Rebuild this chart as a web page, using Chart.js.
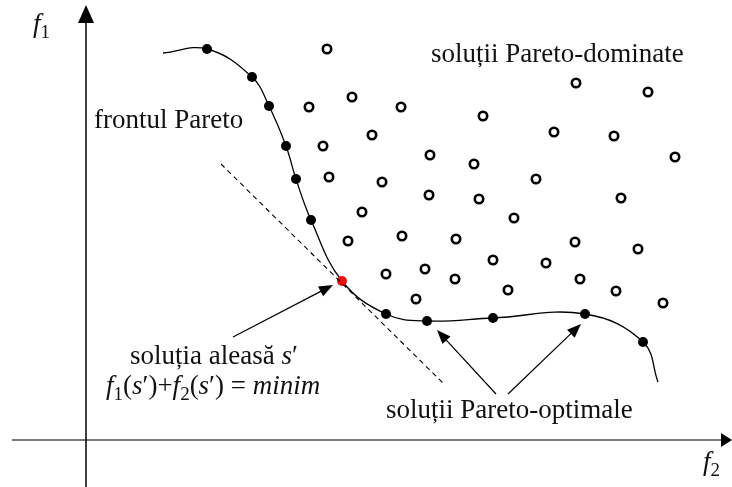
<!DOCTYPE html>
<html>
<head>
<meta charset="utf-8">
<title>Frontul Pareto</title>
<script src="https://cdn.jsdelivr.net/npm/chart.js@4.4.1/dist/chart.umd.min.js"></script>
<style>
  html, body { margin: 0; padding: 0; background: #fff; }
  #frontChart { display: block; }
</style>
</head>
<body>
<canvas id="frontChart" width="732" height="487"></canvas>
<script>
  'use strict';

  // Pareto-optimal solutions on the front (f2, f1)
  const frontF2 = [121, 166, 183, 200, 210, 225, 300, 341, 407, 499, 557];
  const frontF1 = [391, 363, 334, 294, 261, 220, 126, 119, 122, 126, 98];

  // chosen solution s' (minimum of f1 + f2)
  const chosenF2 = [256];
  const chosenF1 = [159];

  // where the drawn front starts and ends
  const frontEndsF2 = [77, 572];
  const frontEndsF1 = [387, 58];

  // dominated solutions
  const dominatedF2 = [241, 490, 562, 223, 266, 315, 397, 286, 468, 528, 237, 344, 388, 589,
    243, 296, 450, 343, 393, 535, 276, 428, 262, 316, 370, 489, 552, 300, 339, 369,
    407, 460, 494, 530, 577, 422, 330];
  const dominatedF1 = [391, 357, 348, 333, 343, 333, 324, 305, 308, 304, 294, 285, 276, 283,
    263, 258, 261, 245, 241, 242, 228, 222, 199, 204, 201, 198, 191, 166, 171, 161,
    180, 177, 161, 149, 137, 150, 141];

  // dashed line f1 + f2 = const through s'
  const tangentF2 = [135, 359];
  const tangentF1 = [276, 55];

  const toPoints = function(xs, ys){
    return xs.map((x, i) => ({x: x, y: ys[i]}));
  };

  const frontCurve = toPoints(
    [frontEndsF2[0]].concat(frontF2.slice(0, 6), chosenF2, frontF2.slice(6), [frontEndsF2[1]]),
    [frontEndsF1[0]].concat(frontF1.slice(0, 6), chosenF1, frontF1.slice(6), [frontEndsF1[1]])
  );

  const SERIF = '"Liberation Serif", "Times New Roman", serif';

  // text pieces: [text, style] with style '' upright, 'i' italic, 'sub' subscript
  const labels = [
    {at: [8, 312], runs: [['frontul Pareto', '']]},
    {at: [345, 378], runs: [['soluții Pareto-dominate', '']]},
    {at: [300, 22], runs: [['soluții Pareto-optimale', '']]},
    {at: [44, 76], runs: [['soluția aleasă ', ''], ['s', 'i'], ['′', '']]},
    {at: [20, 46], runs: [['f', 'i'], ['1', 'sub'], ['(', ''], ['s', 'i'], ['′', ''], [')+', ''],
      ['f', 'i'], ['2', 'sub'], ['(', ''], ['s', 'i'], ['′', ''], [') = ', ''], ['minim', 'i']]},
    {at: [-53, 408], runs: [['f', 'i'], ['1', 'sub']]},
    {at: [617, -30], runs: [['f', 'i'], ['2', 'sub']]}
  ];

  // annotation arrows: from -> to (tip)
  const arrows = [
    {from: [147, 103], to: [247, 155]},
    {from: [410, 46], to: [351, 110]},
    {from: [422, 46], to: [495, 116]}
  ];

  const fontFor = function(style){
    if(style === 'i') return 'italic 27px ' + SERIF;
    if(style === 'sub') return '19px ' + SERIF;
    return '27px ' + SERIF;
  };

  const drawRuns = function(ctx, runs, x, y){
    let cx = x;
    for(let run of runs){
      ctx.font = fontFor(run[1]);
      const dy = run[1] === 'sub' ? 6 : 0;
      ctx.fillText(run[0], cx, y + dy);
      cx += ctx.measureText(run[0]).width;
    }
  };

  const arrowHead = function(ctx, x1, y1, x2, y2, len, half){
    const ang = Math.atan2(y2 - y1, x2 - x1);
    ctx.beginPath();
    ctx.moveTo(x2, y2);
    ctx.lineTo(x2 - len * Math.cos(ang) + half * Math.sin(ang), y2 - len * Math.sin(ang) - half * Math.cos(ang));
    ctx.lineTo(x2 - len * Math.cos(ang) - half * Math.sin(ang), y2 - len * Math.sin(ang) + half * Math.cos(ang));
    ctx.closePath();
    ctx.fill();
  };

  const axesPlugin = {
    id: 'paretoAxes',
    beforeDatasetsDraw(chart){
      const ctx = chart.ctx;
      const xs = chart.scales.x;
      const ys = chart.scales.y;
      const area = chart.chartArea;
      const ox = xs.getPixelForValue(0);
      const oy = ys.getPixelForValue(0);

      ctx.save();
      // f2 axis
      ctx.strokeStyle = '#7a7a7a';
      ctx.lineWidth = 2;
      ctx.beginPath();
      ctx.moveTo(area.left + 12, oy);
      ctx.lineTo(area.right - 8, oy);
      ctx.stroke();
      ctx.fillStyle = '#000';
      arrowHead(ctx, area.left, oy, area.right, oy, 11, 7);

      // f1 axis
      ctx.strokeStyle = '#000';
      ctx.lineWidth = 1.5;
      ctx.beginPath();
      ctx.moveTo(ox, area.bottom);
      ctx.lineTo(ox, area.top + 20);
      ctx.stroke();
      arrowHead(ctx, ox, area.bottom, ox, area.top + 5, 18, 8);
      ctx.restore();
    },
    afterDraw(chart){
      const ctx = chart.ctx;
      const xs = chart.scales.x;
      const ys = chart.scales.y;

      ctx.save();
      ctx.fillStyle = '#000';
      ctx.strokeStyle = '#000';
      ctx.lineWidth = 1.2;
      for(let a of arrows){
        const x1 = xs.getPixelForValue(a.from[0]);
        const y1 = ys.getPixelForValue(a.from[1]);
        const x2 = xs.getPixelForValue(a.to[0]);
        const y2 = ys.getPixelForValue(a.to[1]);
        const ang = Math.atan2(y2 - y1, x2 - x1);
        ctx.beginPath();
        ctx.moveTo(x1, y1);
        ctx.lineTo(x2 - 10 * Math.cos(ang), y2 - 10 * Math.sin(ang));
        ctx.stroke();
        arrowHead(ctx, x1, y1, x2, y2, 14, 5.5);
      }

      ctx.fillStyle = '#111';
      ctx.textBaseline = 'alphabetic';
      ctx.textAlign = 'left';
      for(let label of labels){
        drawRuns(ctx, label.runs, xs.getPixelForValue(label.at[0]), ys.getPixelForValue(label.at[1]));
      }
      ctx.restore();
    }
  };

  const initChart = function(){
    const ctx = document.getElementById('frontChart').getContext('2d');

    // eslint-disable-next-line no-undef, no-unused-vars
    const frontChart = new Chart(ctx, {
      type: 'scatter',
      data: {
        datasets: [
          {
            label: 'soluția aleasă',
            data: toPoints(chosenF2, chosenF1),
            pointRadius: 5,
            pointBackgroundColor: '#ee1111',
            pointBorderWidth: 0,
            order: 1,
          },
          {
            label: 'dreapta f1+f2',
            data: toPoints(tangentF2, tangentF1),
            showLine: true,
            pointRadius: 0,
            borderColor: '#000',
            borderWidth: 1.1,
            borderDash: [5, 4],
            order: 0,
          },
          {
            label: 'soluții Pareto-optimale',
            data: toPoints(frontF2, frontF1),
            pointRadius: 5,
            pointBackgroundColor: '#000',
            pointBorderWidth: 0,
            order: 2,
          },
          {
            label: 'frontul Pareto',
            data: frontCurve,
            showLine: true,
            tension: 0.4,
            pointRadius: 0,
            borderColor: '#000',
            borderWidth: 1.3,
            order: 3,
          },
          {
            label: 'soluții Pareto-dominate',
            data: toPoints(dominatedF2, dominatedF1),
            pointRadius: 4.2,
            pointBackgroundColor: '#fff',
            pointBorderColor: '#000',
            pointBorderWidth: 2.6,
            order: 4,
          }
        ]
      },
      options: {
        responsive: false,
        devicePixelRatio: 1,
        animation: false,
        layout: { padding: 0, autoPadding: false },
        scales: {
          x: { type: 'linear', min: -86, max: 646, display: false },
          y: { type: 'linear', min: -47, max: 440, display: false }
        },
        plugins: {
          legend: { display: false },
          tooltip: { enabled: false }
        }
      },
      plugins: [axesPlugin]
    });
  };

  initChart();
</script>
</body>
</html>
